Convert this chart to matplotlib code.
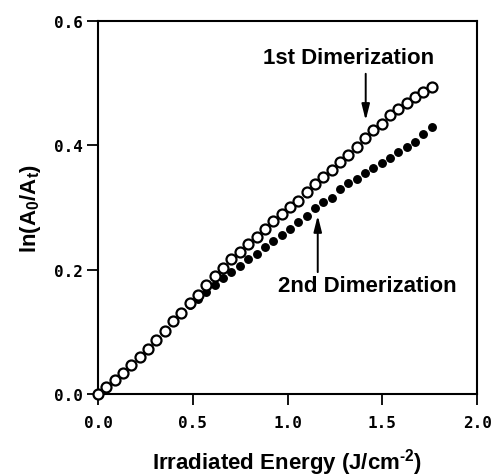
import numpy as np
import matplotlib
matplotlib.use("Agg")
import matplotlib.pyplot as plt

# irradiated energy (J/cm^-2), same grid for both runs
energy = [0.000, 0.044, 0.088, 0.132, 0.176, 0.220, 0.264, 0.308, 0.352, 0.396,
          0.440, 0.484, 0.528, 0.572, 0.616, 0.660, 0.704, 0.748, 0.792, 0.836,
          0.880, 0.924, 0.968, 1.012, 1.056, 1.100, 1.144, 1.188, 1.232, 1.276,
          1.320, 1.364, 1.408, 1.452, 1.496, 1.540, 1.584, 1.628, 1.672, 1.716,
          1.760]

first_dim = [0.000, 0.011, 0.022, 0.034, 0.047, 0.059, 0.072, 0.086, 0.101, 0.118,
             0.131, 0.146, 0.159, 0.175, 0.190, 0.203, 0.217, 0.229, 0.241, 0.253,
             0.265, 0.278, 0.290, 0.301, 0.311, 0.325, 0.338, 0.349, 0.361, 0.373,
             0.385, 0.398, 0.412, 0.424, 0.435, 0.448, 0.459, 0.468, 0.477, 0.485,
             0.493]

second_dim = [0.000, 0.011, 0.022, 0.034, 0.046, 0.058, 0.071, 0.085, 0.100, 0.116,
              0.129, 0.143, 0.153, 0.164, 0.176, 0.186, 0.196, 0.206, 0.217, 0.225,
              0.237, 0.246, 0.255, 0.266, 0.277, 0.287, 0.299, 0.308, 0.316, 0.329,
              0.339, 0.346, 0.355, 0.363, 0.371, 0.379, 0.389, 0.397, 0.405, 0.418,
              0.429]

x_ticks = [0.0, 0.5, 1.0, 1.5, 2.0]
y_ticks = [0.0, 0.2, 0.4, 0.6]

plt.rcParams['mathtext.fontset'] = 'custom'
plt.rcParams['mathtext.rm'] = 'Liberation Sans:bold'
plt.rcParams['mathtext.it'] = 'Liberation Sans:bold'
plt.rcParams['mathtext.bf'] = 'Liberation Sans:bold'

fig = plt.figure(figsize=(4.95, 4.77), dpi=100)
ax = fig.add_axes([0.198, 0.172, 0.766, 0.782])

ax.plot(energy, second_dim, 'o', color='black', markersize=5.4, zorder=2)
ax.plot(energy, first_dim, 'o', markerfacecolor='white', markeredgecolor='black',
        markeredgewidth=1.6, markersize=7.2, zorder=3, clip_on=False)

ax.set_xlim(0, 2.0)
ax.set_ylim(0, 0.6)
ax.set_xticks(x_ticks)
ax.set_yticks(y_ticks)
ax.set_xticklabels([f'{v:.1f}' for v in x_ticks])
ax.set_yticklabels([f'{v:.1f}' for v in y_ticks])

for lab in ax.get_xticklabels() + ax.get_yticklabels():
    lab.set_family('DejaVu Sans Mono')
    lab.set_weight('bold')
    lab.set_fontsize(11.5)

ax.tick_params(axis='both', direction='out', length=8, width=1.3)
ax.tick_params(axis='x', pad=7)
ax.tick_params(axis='y', pad=3)
for sp in ax.spines.values():
    sp.set_linewidth(1.5)

ax.set_xlabel('Irradiated Energy (J/cm$^{\\mathrm{\u2010 2}}$)', family='Liberation Sans',
              weight='bold', fontsize=16, labelpad=12)
ax.set_ylabel(r'ln(A$_{\mathrm{0}}$/A$_{\mathrm{t}}$)', family='Liberation Sans',
              weight='bold', fontsize=16, labelpad=8)

arrow = dict(arrowstyle='-|>,head_length=0.8,head_width=0.2', color='black',
             lw=1.4, shrinkA=0, shrinkB=0, mutation_scale=12)
ax.annotate('', xy=(1.412, 0.440), xytext=(1.412, 0.515), arrowprops=arrow)
ax.annotate('', xy=(1.159, 0.287), xytext=(1.159, 0.196), arrowprops=arrow)

ax.text(1.323, 0.542, '1st Dimerization', family='Liberation Sans', weight='bold',
        fontsize=16, ha='center', va='center')
ax.text(1.418, 0.174, '2nd Dimerization', family='Liberation Sans', weight='bold',
        fontsize=16, ha='center', va='center')

fig.savefig('out.png', dpi=100)
